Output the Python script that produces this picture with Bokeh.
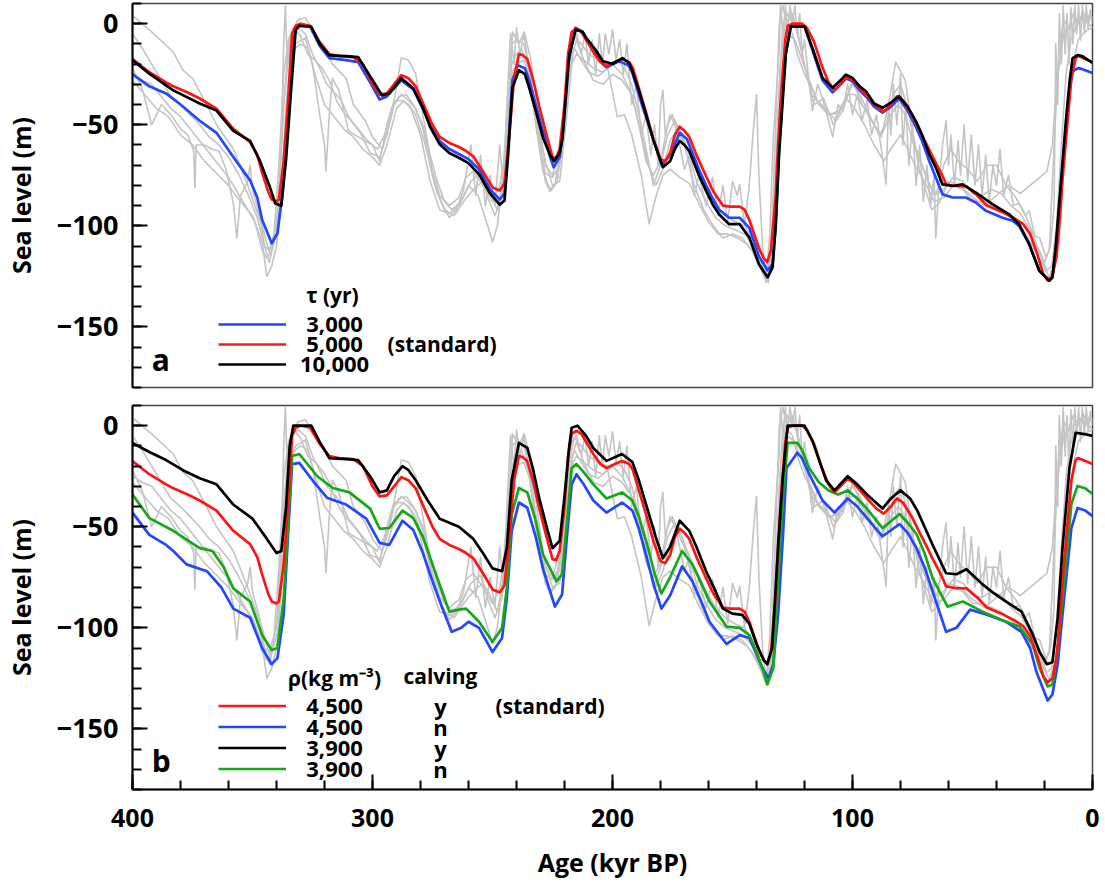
from bokeh.plotting import figure
from bokeh.models import Range1d, SingleIntervalTicker, Label, Legend, LegendItem
from bokeh.layouts import column
from bokeh.embed import file_html
from bokeh.resources import INLINE

# ---------------- data (age kyr BP, sea level m) ----------------
# model: standard run (tau 5,000 yr; rho 4,500, calving) - shown in both panels
red_std = [(400,-17.5),(393,-24),(386,-29),(383,-31),(377,-34),(372,-37),(365,-42),(358,-52),(351,-58.6),(348,-65),
 (346,-73.6),(343.5,-83),(342,-87),(340,-88),(339,-87),(337,-68.6),(335,-35),(333.5,-5),(332,-1),(330,0),(326,-1),
 (322,-9),(318,-15),(314,-16),(308,-16.5),(304,-20),(300,-30),(297,-35),(294,-34.5),(291,-30),(288,-25.5),(285,-27),
 (282,-31),(278,-42),(275,-50),(272,-56),(268,-59),(264,-61),(261,-63),(258,-65.6),(254,-73),(250,-81),(247,-82.5),
 (245,-79),(243,-55),(241,-27),(239,-15),(237.5,-15.5),(235.5,-17.5),(233,-28),(230.5,-41),(227.5,-55),(225,-66),
 (223.5,-66.5),(222,-62),(220,-40),(218.5,-15),(217,-4),(215,-2.5),(213,-4),(210,-10),(208,-14),(205,-19),
 (202.5,-21),(199,-19),(196,-17.5),(193,-19),(191.5,-22),(189,-32),(186,-44),(183,-57),(180,-67),(178,-68),(176,-64),
 (174,-55),(172,-51),(170,-53),(168,-56),(165,-65),(161,-75.5),(158,-83),(154,-90),(151,-90.5),(147,-90.5),(145,-92),
 (143,-97),(141,-104),(139,-111),(137,-116),(135.5,-118),(134,-112),(132,-85),(131,-60),(129.5,-30),(128,-8),(127,-1),
 (125,0),(121,0),(119,-2),(116,-9),(113,-20),(110,-29),(107.5,-33),(105,-30),(102,-26),(99,-29),(94,-36),(90,-41),
 (87,-43.5),(84,-40),(81.5,-36),(79,-38),(75,-45.7),(72,-53),(69,-60),(66.7,-65.6),(63,-74),(61,-79.5),(57,-80.3),
 (52.5,-80.5),(48,-85),(44,-90),(38,-93),(33,-96),(29,-99),(26,-104),(23,-114),(20.5,-124),(18.7,-127),(16.7,-125),
 (15,-115),(13.5,-95),(12.5,-77),(10.5,-50),(8.8,-27),(7,-17),(6,-16),(3,-17.5),(0,-19)]

# panel a: tau = 10,000 yr
black_tau10000 = [(400,-18),(393,-24.7),(383,-33),(372,-39.5),(365,-43),(358,-53),(351,-58),(347,-67.6),(343,-80),
 (340.5,-89),(338,-90),(336,-67),(334,-34),(332,-3),(330.5,-1),(325.5,-1.5),(322,-10),(318,-15.7),(311,-16),(306,-16.5),
 (301,-26),(296,-35.5),(293,-34.5),(288,-27),(283,-32),(279,-41.6),(276,-51),(272,-59.7),(268,-64),(264,-66.3),(260,-69),
 (255.6,-74.5),(251,-84),(247,-89.5),(245,-87.5),(243.5,-65),(241.7,-31.7),(239,-23),(236.5,-25),(234.7,-31.7),(232,-43),
 (229,-56.4),(226,-65),(224.3,-68),(222,-64),(220.8,-56.4),(218,-15.3),(215.3,-3),(212.5,-4),(211,-7),(207,-13),
 (204,-18.6),(200,-19.8),(195.8,-17),(193,-19.7),(191.7,-23.5),(189,-33),(186,-45),(183,-57.6),(179,-71),(176,-68),
 (174,-62),(172,-58),(170,-60),(168,-63),(164,-75),(161,-82.7),(158,-90),(155.6,-94.3),(151.4,-99.2),(147,-99.2),
 (143,-105.8),(139,-119),(135.4,-125.5),(133.3,-120.6),(132,-100),(130.6,-64.6),(127.8,-15.3),(125.7,-1.3),(120,-1.3),
 (116.7,-12),(112.5,-26.8),(108.3,-31.7),(105,-28),(102.8,-25.2),(100,-26.8),(97,-31),(94.4,-33.4),(91,-39.5),
 (87.5,-41.6),(84,-39),(80.6,-35.9),(77,-41),(73.6,-48.2),(71,-55),(68,-64.6),(65,-72),(62.5,-79.5),(58.3,-80.3),
 (54.2,-79.5),(48.6,-83.6),(41.7,-89.3),(34.7,-94.3),(30.6,-99.2),(26.4,-109),(22.2,-122.2),(18,-127.2),(16.7,-125.5),
 (15.3,-110),(13.9,-89.3),(11.1,-48.2),(9.5,-28),(8.3,-17),(6,-15.5),(4.2,-16.1),(0,-19.4)]

# panel a: tau = 3,000 yr
blue_tau3000 = [(400,-25),(393,-31),(386,-34.5),(380,-40),(372,-48),(365,-54),(358,-66),(351,-77.5),(348,-86),(346,-97),
 (342,-108.6),(339.6,-103.7),(337.5,-84),(335,-45),(333,-8),(331.5,-1),(326,-1.5),(322,-11),(318,-17),(311,-18),(306,-19),
 (301,-29),(297,-37.5),(294,-36),(288,-28),(283,-32.5),(279,-42),(276,-50),(272,-58),(268,-62),(264,-64.5),(260,-67),
 (255.6,-72),(251,-82),(247,-87),(245,-84),(243.5,-62),(241.7,-28),(239.5,-20.5),(236.5,-22),(234.7,-28),(232,-40),
 (229,-53),(226,-66),(224.5,-71),(222,-66),(220.8,-55),(218.5,-20),(215.5,-2),(212.5,-4),(207,-15),(204,-20),(202.5,-21.5),
 (197,-18.5),(193,-21),(191.7,-24.5),(187.5,-41),(183,-57),(179.5,-70),(176,-65),(172,-54),(169,-57),(164,-72),(161,-80),
 (158,-87),(155.6,-92),(151.4,-96),(147,-96),(143,-101),(139,-115),(135.4,-122),(133.3,-119),(132,-100),(130.6,-62),
 (127.8,-14),(125.7,-1.3),(120,-1.3),(116.7,-13),(112.5,-28),(108.3,-34),(105,-30),(102.8,-27),(100,-28.5),(97,-33),
 (94.4,-36),(91,-41),(87.5,-44),(84,-41),(80.6,-37),(77,-43),(73.6,-51),(71,-58),(68,-68),(65,-77),(62.5,-84.4),
 (58.3,-86),(52.8,-86),(48.6,-88.5),(44.4,-92.6),(37.5,-96),(33.3,-97.5),(30.6,-100),(26.4,-109),(22.2,-122),(18,-127),
 (16.7,-125.5),(15.3,-112),(13.9,-92),(11.1,-52),(9.5,-32),(8.3,-23.5),(6,-22),(4.2,-22.5),(0,-24.4)]

# panel b: rho 3,900, calving
black_rho3900_y = [(400,-8.5),(393,-13),(386,-17),(379,-22),(372,-26),(365,-29),(358,-39),(350,-46),(344,-56),(340,-63),
 (338,-62),(336,-40),(334.5,-10),(333,0),(325.5,0),(322,-8),(318,-16),(311,-16.5),(306,-17),(301,-25),(297,-33),(294,-32),
 (291,-25),(287.5,-20),(285,-22),(282,-27),(277,-37),(272,-46),(264,-50),(258,-56),(254,-63),(250,-70.6),(246,-72),
 (244,-60),(242,-27),(239,-8.5),(235.5,-11),(233,-22),(230.5,-36),(227,-52),(225,-60.6),(222,-57),(220,-35),(218,-10),
 (217,-1),(214.6,0),(211,-5),(208,-11),(202.5,-17.4),(196,-14),(191.7,-18),(189,-27),(186,-39),(182,-55),(179,-65.6),
 (176,-60),(172,-47),(168,-52),(165,-60),(161,-72),(157,-82),(154,-90.5),(150,-93),(146,-93.6),(143,-98),(140,-108),
 (137,-116),(135.5,-118),(133.5,-110),(131,-60),(129,-25),(127,0),(120,0),(116.7,-7.5),(111,-27),(107.5,-32),(102,-25),
 (98,-29),(94,-34),(87.5,-41),(84,-36),(80,-32),(76,-36),(73,-42),(70,-50),(66.6,-59),(61,-73),(56.7,-73.5),(52.5,-71),
 (45.8,-78.5),(41,-83),(36,-87),(29.6,-92),(25,-103),(22,-112),(19,-118),(16.7,-117),(14.5,-95),(12.5,-60.6),(9.6,-21),
 (7,-3.5),(4,-4),(0,-5)]

# panel b: rho 4,500, no calving
blue_rho4500_n = [(400,-43),(393,-54),(386,-59),(383,-62),(377.5,-68.6),(369,-72),(363,-80),(358,-90.5),(351,-95),(346,-110),
 (342,-118),(339.6,-115),(337,-93.5),(335,-50),(333.5,-19),(330.5,-18.4),(325,-27),(319,-35.6),(311,-39),(302.6,-46),
 (297,-58),(293,-59),(287.5,-47),(283,-51.6),(279,-63),(275,-77),(271,-90),(267,-102),(263,-100),(260,-97),(255.6,-100),
 (250,-112),(246,-105),(244,-85),(242,-52),(239,-38),(235.5,-40.6),(232,-55),(229,-70.6),(224,-89.5),(221,-83.5),
 (219,-55),(217,-29),(215,-24),(212,-29),(208,-37),(202.5,-43),(196,-38),(191.7,-42),(189,-51),(186,-64),(182.5,-80),
 (179.6,-90.5),(176,-84),(171,-69.6),(166.7,-77),(163,-87),(159.6,-97),(152.5,-108),(147,-103.6),(143,-105),(140,-113),
 (137.5,-120),(135,-125),(133,-118),(131,-93.5),(129,-55),(127.5,-21),(123,-13.4),(121,-16),(118,-24),(112.5,-37),
 (107.5,-43),(102,-36),(98,-40),(94,-45.7),(87.5,-54.7),(80.4,-48.7),(77,-53),(73.3,-60.6),(70,-70),(66.6,-82),
 (61,-102),(56.7,-100),(51,-91),(44,-93.5),(36,-97),(29.6,-102),(26,-110),(23.3,-122),(18.7,-136),(16.7,-133),
 (14.5,-118),(12.5,-93.5),(8.8,-50.7),(6.25,-40.7),(3,-42),(0,-44.7)]

# panel b: rho 3,900, no calving
green_rho3900_n = [(400,-34),(393,-45.7),(383,-52),(372,-60.6),(366.7,-62),(362,-70),(358,-80.5),(351,-87),(346,-103.6),
 (342,-111),(339.6,-110),(337,-85.5),(335,-45),(333.5,-15),(330.5,-14),(323,-25),(316.6,-30.8),(309.6,-33),(301,-41),
 (297,-51),(293,-50.6),(287.5,-42),(283,-45.7),(279,-55),(275,-68.6),(271,-82),(268,-92),(264,-91),(261,-90.5),
 (255.6,-97),(250,-107),(246,-100),(244,-80),(242,-44),(239,-30.8),(235.5,-33),(232,-47),(229,-63.6),(223.3,-77),
 (221,-73.6),(219,-48),(217,-21),(215,-19),(212,-23),(208,-29),(202.5,-36),(196,-33),(191.7,-37),(189,-45),(186,-57),
 (182.5,-73),(179.6,-83),(176,-75),(171,-62),(166.7,-68.6),(163,-78),(159.6,-87),(152.5,-99.4),(147,-100),(143,-103.6),
 (140,-112),(137.5,-120),(135.5,-128),(133,-120),(131,-77),(129,-35),(127,-8.5),(123,-8.5),(121,-12),(118,-21),
 (114,-28),(110,-32),(106,-34),(102,-32),(98,-36),(94,-41),(87.5,-50.7),(80.4,-43.7),(77,-48),(73.3,-53.7),(70,-63),
 (66.6,-75.5),(60.4,-89.5),(54,-87),(45.8,-92),(36,-97),(30.4,-99.4),(25,-108),(22,-120),(18.7,-129),(16.7,-128),
 (14.5,-110),(12.5,-85.5),(8.8,-38.8),(6.25,-29.8),(3,-31),(0,-33.8)]

# sea-level reconstructions (grey, both panels)
rec1 = [(400,4),(392,-4),(383,-14),(379,-23),(375,-27),(370,-38),(365,-50),(358,-62),(352,-80),(346,-100),(343,-113),
 (340,-100),(337,-40),(334,-5),(331,2),(328,3),(323,-7),(319,-14),(316.7,-20),(311,-27),(308,-40),(303,-48),(300,-56),
 (296,-62),(292,-45),(288,-17),(285,-18),(282,-25),(279,-45),(275,-73),(272,-85),(268,-90),(264,-86),(261,-76),(258,-73),
 (254,-80),(250,-88),(247,-80),(244,-60),(241.7,-4),(239,-10),(236.8,-4),(234,-18),(231,-45),(228,-70),(225,-75),
 (221,-58),(218,-20),(215,-8),(212,-18),(208,-28),(204,-30),(200,-25),(196,-28),(192,-35),(188,-55),(185,-70),(182,-80),
 (179,-72),(176,-58),(173,-52),(170,-60),(166,-80),(162,-92),(158,-100),(154,-106),(150,-104),(146,-106),(142,-112),
 (139,-119),(136,-126),(134,-120),(132,-70),(130,-20),(128,0),(125,5),(122,-10),(119.4,-23.5),(116,-40),(112,-37),
 (108,-50),(104,-43),(100,-28),(96,-40),(92,-48),(88,-56),(85,-40),(82,-19),(78,-28),(75,-53),(72,-73),(67,-92),(64,-89),
 (60,-78),(55,-80),(50,-86),(45,-90),(40,-85),(35,-80),(30,-84),(26,-80),(22,-76),(19,-73),(16.7,-60),(15,-30),(12,-5),
 (8,0),(4,3),(0,-2)]

rec2 = [(400,-22),(396,-32),(392,-50),(388,-40),(384,-45),(380,-52),(377,-55),(374.5,-63),(374,-81),(373.5,-60),(370,-60),
 (367,-62),(364,-63),(361,-72),(358,-89),(356.5,-106),(355,-85),(352,-78),(351,-70),(350,-82),(347,-95),(345,-110),
 (343,-118),(341,-108),(339,-100),(338,-60),(337,-10),(336.3,9),(335.5,-20),(334,-15),(332,-10),(328,-7),(325,-20),
 (322,-45),(320,-60),(319.4,-73),(318,-45),(316.7,-27),(314,-33),(310,-53),(306,-56),(300,-60),(297,-68),(294,-50),
 (291,-38),(288,-38),(285,-40),(282,-45),(278,-60),(274,-80),(271,-89),(268,-96),(265,-92),(262,-82),(259,-60),(257,-85),
 (255,-65),(253,-90),(251,-75),(249,-90),(247,-60),(245.5,-80),(244,-40),(242.5,-5),(241,-20),(240,-2),(238.5,-15),
 (237,-5),(235,-20),(232,-45),(230,-60),(228,-78),(226,-83),(224,-80),(222,-65),(220,-40),(218.5,-15),(217,-8),(215,-5),
 (213,-15),(211.5,-5),(210,-20),(208.5,-8),(207,-25),(205.5,-5),(204.2,-20),(203,-5),(201.5,-15),(200,-3),(198.5,-18),
 (197,-8),(195.5,-25),(194,-10),(192,-40),(190,-30),(188,-55),(186,-45),(184,-65),(182.5,-50),(181,-70),(180,-40),
 (179,-33),(178,-55),(176,-45),(174,-50),(172,-60),(170,-72),(168,-65),(166,-85),(164,-75),(161,-90),(158.3,-76),
 (156,-95),(154,-80),(152,-98),(150,-78),(148,-85),(147,-79.5),(145,-100),(143,-80),(141.5,-55),(140,-35),(139,-75),
 (137.5,-110),(136,-126),(134.5,-105),(133,-56),(131.5,-30),(130.5,-12),(130,9),(129,-5),(128,9),(127,-2),(126,9),
 (125,0),(124,9),(123,-5),(122,5),(121,-15),(120,-8),(118,-30),(116.7,-43),(114.5,-30),(112.5,-37),(110,-48),
 (108.3,-56),(106,-40),(104,-43),(102,-30),(100,-45),(98,-35),(96,-48),(94,-38),(92,-55),(90,-45),(88,-62),(86,-79.5),
 (85,-40),(84,-55),(83,-30),(81.5,-50),(80,-25),(79,-60),(77.8,-40),(76.5,-70),(75,-50),(73.5,-80),(72,-60),(70.5,-88),
 (69,-70),(67.5,-90),(66,-75),(65.3,-106),(64,-80),(62.5,-60),(61,-48),(60,-70),(59,-55),(57.5,-80),(56,-58),(55,-75),
 (53.5,-50),(52,-78),(50.5,-55),(49,-80),(47.5,-60),(46,-85),(44.5,-65),(43,-88),(41.5,-70),(40,-80),(38.5,-62),
 (37,-85),(35,-75),(33,-90),(30.6,-89),(28,-95),(26.4,-92.6),(24,-105),(22,-106),(19.4,-115.6),(17.5,-110),(16,-90),
 (15.3,-10),(14.5,-40),(13.8,5),(13,-20),(12.2,9),(11.4,-15),(10.6,5),(9.8,-20),(9,8),(8.2,-10),(7.4,9),(6.6,-5),
 (5.8,9),(5,-8),(4.2,9),(3.4,-5),(2.6,9),(1.8,-3),(1,7),(0,0)]

rec3 = [(400,-28),(395,-35),(390,-42),(385,-46),(380,-55),(375,-60),(370,-68),(365,-74),(360,-80),(355,-88),(350,-95),
 (346,-108),(344,-125),(342,-120),(340,-110),(338,-80),(336,-40),(334,-15),(332,-12),(330,-10),(327,-12),(324,-25),
 (320,-40),(316,-46),(312,-52),(308,-56),(304,-62),(300,-66),(297,-70),(294,-60),(290,-42),(287,-38),(284,-42),
 (280,-55),(276,-78),(272,-92),(268,-94),(264,-90),(260,-80),(256,-85),(252,-100),(250,-108),(248,-100),(246,-80),
 (244,-45),(242,-20),(240,-15),(238,-12),(235,-22),(232,-50),(229,-73),(226,-82),(223,-78),(220,-50),(218,-25),
 (216,-12),(213,-18),(210,-24),(206,-26),(202,-22),(198,-46),(195,-45),(192,-55),(188,-75),(184.7,-99),(182,-86),
 (179,-75),(176,-72),(172,-76),(168,-79),(164,-89),(160,-98),(156,-104),(152,-104),(148,-106),(144,-109),(140,-115),
 (137,-125),(135,-128),(133,-110),(131,-60),(129,-20),(127,-5),(124,-8),(121,-18),(118,-28),(114,-40),(110,-45),
 (106,-44),(102.8,-36.7),(99,-42),(95,-50),(91,-60),(87,-68),(84,-62),(80,-55),(77,-62),(74,-70),(70,-78),(66,-88),
 (62,-86),(58,-80),(54,-82),(50,-88),(46,-88),(42,-90),(38,-92),(34,-96),(30,-100),(26,-108),(22.2,-115.6),(18,-125.5),
 (15,-115),(13.9,-106),(12,-70),(10,-40),(8,-20),(6,-8),(4,-5),(2,-3),(0,-2)]

rec4 = [(400,-25),(396,-28),(392,-30),(388,-36),(384,-42),(380,-46),(376,-52),(372,-58),(368,-64),(364,-70),(360,-76),
 (356,-84),(352,-92),(349,-98),(346,-112),(344,-116),(342,-112),(339,-90),(337,-40),(335,-10),(333,-4),(331,-2),
 (328,-5),(325,-15),(322,-22),(319,-30),(316,-34),(313,-38),(310,-46),(306,-52),(302,-58),(298,-62),(295,-55),(292,-42),
 (289,-36),(286,-35),(283,-40),(279,-50),(276,-65),(273,-78),(270,-88),(267,-92),(263,-88),(259,-78),(255,-74),
 (252,-86),(249,-95),(246,-85),(244,-55),(242,-10),(240,-8),(237,-10),(234,-25),(231,-55),(228,-74),(225,-76),
 (222,-70),(220,-45),(218,-18),(216,-6),(213,-10),(210,-15),(206,-18),(202,-20),(198,-18),(195,-22),(192,-30),
 (189,-45),(186,-62),(183,-80),(180,-70),(177,-55),(174,-48),(171,-55),(168,-65),(165,-78),(161,-88),(157,-96),
 (153,-100),(149,-102),(145,-104),(141,-110),(138,-120),(136,-128),(134,-118),(132,-80),(130.5,-30),(129,0),(127,5),
 (125,0),(123,-3),(120,-20),(117,-35),(113,-40),(109.7,-45),(105.6,-43),(102,-35),(99,-35),(95,-42),(91,-50),(88,-55),
 (84,-45),(81,-40),(78,-45),(75,-58),(72,-68),(69,-76),(66,-85),(62,-82),(58,-76),(54,-78),(50,-84),(46,-85),(42,-82),
 (38,-84),(34,-90),(30,-94),(26,-102),(22,-114),(19,-122),(17,-120),(15,-100),(13,-60),(11,-25),(9,-8),(7,-2),(5,3),
 (3,0),(1,5),(0,2)]

rec5 = [(400,-5),(396,-12),(392,-20),(388,-28),(384,-36),(380,-40),(376,-45),(372,-50),(368,-56),(364,-60),(360,-66),
 (356,-74),(352,-84),(348,-96),(345,-110),(343,-112),(341,-104),(339,-70),(337,-25),(335,-8),(333,-2),(330,-6),
 (327,-15),(324,-18),(321,-22),(318,-28),(315,-38),(312,-44),(309,-48),(305,-54),(301,-64),(297,-66),(294,-55),
 (291,-40),(288,-35),(285,-38),(282,-42),(279,-52),(276,-70),(273,-84),(270,-92),(266,-95),(262,-88),(258,-82),
 (254,-78),(251,-84),(248,-92),(246,-80),(244,-60),(242,-25),(240,-20),(237,-18),(234,-28),(231,-52),(228,-68),
 (225,-80),(222,-78),(219,-45),(217,-20),(215,-15),(212,-18),(208,-22),(204,-24),(200,-20),(196,-25),(192,-35),
 (189,-50),(186,-68),(183,-75),(180,-68),(177,-50),(175,-45),(172,-55),(169,-62),(165,-72),(161,-82),(157,-90),
 (153,-95),(149,-98),(145,-100),(141,-108),(138,-118),(136,-124),(134,-115),(132,-50),(130.5,0),(129,9),(127,-2),
 (125,-5),(123,-15),(120,-25),(117,-32),(114,-40),(111,-42),(107,-48),(104,-40),(100,-30),(97,-35),(93,-45),(89,-55),
 (86,-50),(83,-35),(80,-30),(77,-42),(74,-60),(71,-70),(68,-80),(65,-84),(62,-70),(59,-62),(56,-68),(52,-72),(48,-78),
 (44,-70),(40,-70),(36,-80),(32,-86),(29,-92),(26,-100),(23,-110),(20,-118),(18,-112),(16,-60),(14,-15),(12,2),(10,-2),
 (8,5),(6,0),(4,6),(2,1),(0,4)]

records = [rec1, rec2, rec3, rec4, rec5]

legend_a_labels = ["3,000", "5,000", "10,000"]
legend_b_rho = ["4,500", "4,500", "3,900", "3,900"]
legend_b_calving = ["y", "n", "y", "n"]

# ---------------- style ----------------
FONT = "Open Sans"
GRAY = "#c4c4c4"
BLUE = "#2446ff"
RED = "#ff1414"
GREEN = "#16a816"
BLACK = "#000000"
LW = 2.7

# y data value of each legend row (legend rows are 20 / 21 px tall)
ROW_A = [-148.8, -158.7, -168.6]
ROW_B = [-138.7, -149.1, -159.5, -169.9]


def xs(pts):
    return [a for a, _ in pts]


def ys(pts):
    return [v for _, v in pts]


def base_fig(panel_b):
    p = figure(frame_width=960, frame_height=384,
               x_range=Range1d(400, 0), y_range=Range1d(-180, 10),
               x_axis_location="below" if panel_b else None,
               output_backend="svg", toolbar_location=None,
               min_border_left=125, min_border_right=10,
               min_border_top=9 if panel_b else 3,
               min_border_bottom=5 if panel_b else 9)
    p.xgrid.visible = False
    p.ygrid.visible = False
    p.outline_line_color = "#444444"
    p.outline_line_width = 1.5
    p.background_fill_color = "white"
    p.border_fill_color = "white"
    ya = p.yaxis[0]
    ya.ticker = SingleIntervalTicker(interval=50, num_minor_ticks=5)
    ya.major_tick_in = 15
    ya.major_tick_out = 0
    ya.minor_tick_in = 9
    ya.minor_tick_out = 0
    ya.major_tick_line_width = 2
    ya.minor_tick_line_width = 2
    ya.major_tick_line_color = BLACK
    ya.minor_tick_line_color = BLACK
    ya.axis_line_width = 2
    ya.axis_line_color = BLACK
    ya.major_label_standoff = 14
    ya.major_label_text_font = FONT
    ya.major_label_text_font_size = "27px"
    ya.major_label_text_font_style = "bold"
    ya.major_label_text_color = BLACK
    ya.axis_label = "Sea level (m)"
    ya.axis_label_text_font = FONT
    ya.axis_label_text_font_size = "25px"
    ya.axis_label_text_font_style = "bold"
    ya.axis_label_text_color = BLACK
    ya.axis_label_standoff = 16
    if panel_b:
        xa = p.xaxis[0]
        xa.ticker = SingleIntervalTicker(interval=100, num_minor_ticks=5)
        xa.major_tick_in = 15
        xa.major_tick_out = 0
        xa.minor_tick_in = 9
        xa.minor_tick_out = 0
        xa.major_tick_line_width = 2
        xa.minor_tick_line_width = 2
        xa.major_tick_line_color = BLACK
        xa.minor_tick_line_color = BLACK
        xa.axis_line_width = 2
        xa.axis_line_color = BLACK
        xa.major_label_standoff = 19
        xa.major_label_text_font = FONT
        xa.major_label_text_font_size = "25px"
        xa.major_label_text_font_style = "bold"
        xa.major_label_text_color = BLACK
        xa.axis_label = "Age (kyr BP)"
        xa.axis_label_text_font = FONT
        xa.axis_label_text_font_size = "25px"
        xa.axis_label_text_font_style = "bold"
        xa.axis_label_text_color = BLACK
        xa.axis_label_standoff = 15
    for rec in records:
        p.line(xs(rec), ys(rec), line_color=GRAY, line_width=1.6, line_join="round")
    return p


def text(p, x, y, s, size="21px", align="left"):
    p.add_layout(Label(x=x, y=y, text=s, text_font=FONT, text_font_size=size,
                       text_font_style="bold", text_color=BLACK,
                       text_align=align, text_baseline="middle"))


def make_legend(renderers, loc, gh):
    # legend keys only; the numeric labels are drawn as separate text (centred, as in the figure)
    items = [LegendItem(label=" ", renderers=[r]) for r in renderers]
    return Legend(items=items, location=loc, orientation="vertical",
                  glyph_width=68, glyph_height=gh, label_height=gh, label_width=1,
                  label_standoff=0, spacing=0, padding=0, margin=0,
                  border_line_alpha=0, background_fill_alpha=0,
                  label_text_font_size="6px", label_text_alpha=0)


def model_line(p, pts, color):
    return p.line(xs(pts), ys(pts), line_color=color, line_width=LW, line_join="round")


# ---------------- panel a ----------------
pa = base_fig(False)
rb = model_line(pa, blue_tau3000, BLUE)
rr = model_line(pa, red_std, RED)
rk = model_line(pa, black_tau10000, BLACK)
pa.add_layout(make_legend([rb, rr, rk], (86, 13), 20))
text(pa, 316.7, -134, "\u03c4 (yr)", align="center")
for yy, s in zip(ROW_A, legend_a_labels):
    text(pa, 315.8, yy, s, size="22px", align="center")
text(pa, 293.7, ROW_A[1], "(standard)")
text(pa, 392, -166, "a", size="30px")

# ---------------- panel b ----------------
pb = base_fig(True)
gb = model_line(pb, blue_rho4500_n, BLUE)
gg = model_line(pb, green_rho3900_n, GREEN)
gr = model_line(pb, red_std, RED)
gk = model_line(pb, black_rho3900_y, BLACK)
pb.add_layout(make_legend([gr, gb, gk, gg], (86, 10), 21))
text(pb, 315.8, -124.6, "\u03c1(kg m\u207b\u00b3)", align="center")
text(pb, 271.7, -123.6, "calving", align="center")
for yy, s1, s2 in zip(ROW_B, legend_b_rho, legend_b_calving):
    text(pb, 315.8, yy, s1, size="22px", align="center")
    text(pb, 271.7, yy, s2, size="22px", align="center")
text(pb, 248.7, ROW_B[0], "(standard)")
text(pb, 392, -165.7, "b", size="30px")

layout = column(pa, pb, spacing=0)
open("out.html", "w").write(file_html(layout, INLINE))
